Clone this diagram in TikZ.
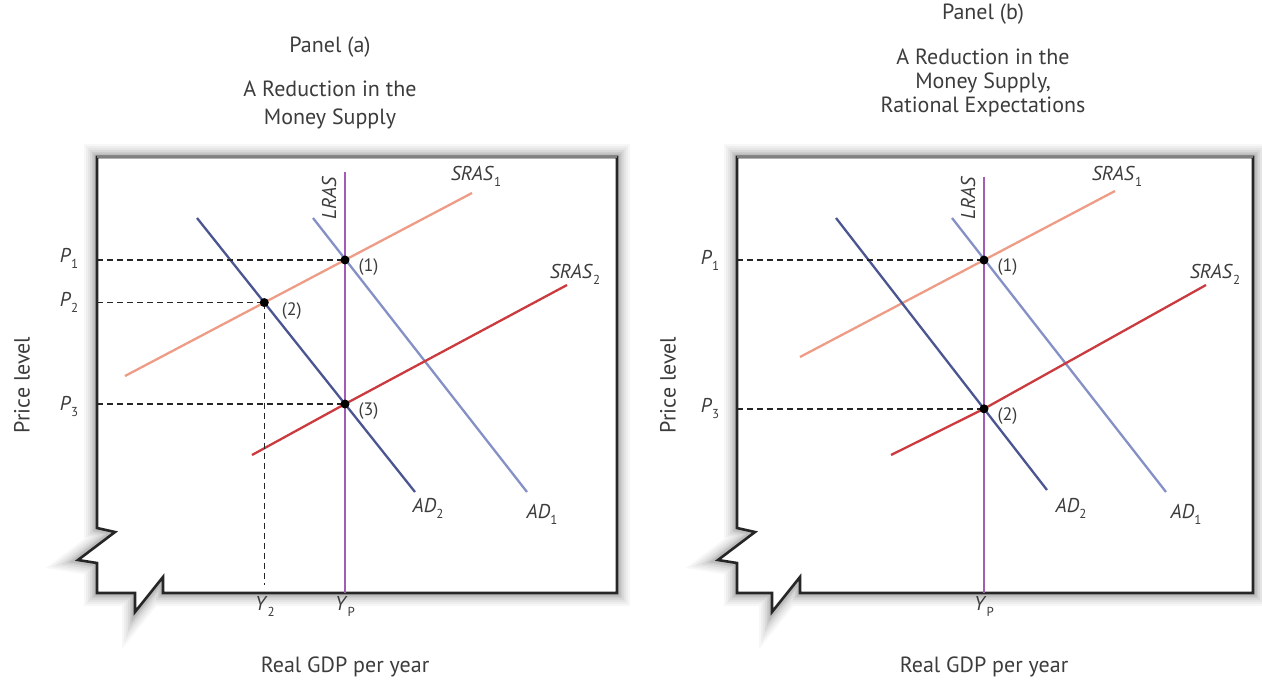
\documentclass[tikz,border=0pt]{standalone}
\usepackage{fontspec}
\setmainfont{PT Sans}
\usetikzlibrary{intersections}
\definecolor{lrasc}{HTML}{A45BB5}
\definecolor{srasone}{HTML}{EE9C86}
\definecolor{srastwo}{HTML}{CB3A3E}
\definecolor{adone}{HTML}{8591C6}
\definecolor{adtwo}{HTML}{4B5592}
\definecolor{ink}{HTML}{3C3C3C}
\newcommand{\sub}[1]{\raisebox{-0.6ex}{\fontsize{13}{13}\selectfont #1}}
\newcommand{\var}[2]{\textit{#1}\sub{#2}}

\begin{document}
\begin{tikzpicture}[x=1pt, y=-1pt,
  every node/.style={text=ink, font=\fontsize{22}{24}\selectfont},
  frame/.style={fill=white, draw=black!85, line width=2.6pt,
    preaction={draw=black, line width=26pt, opacity=0.03},
    preaction={draw=black, line width=22pt, opacity=0.035},
    preaction={draw=black, line width=18pt, opacity=0.04},
    preaction={draw=black, line width=14pt, opacity=0.05},
    preaction={draw=black, line width=10pt, opacity=0.06},
    preaction={draw=black, line width=7pt, opacity=0.08}},
  topedge/.style={draw=black!50, line width=2.8pt},
  curve/.style={line width=2.3pt},
  guide/.style={black!85, line width=1.5pt, dash pattern=on 6pt off 4pt},
  eqpt/.style={circle, fill=black, inner sep=0pt, minimum size=9pt},
  lab/.style={font=\fontsize{20}{24}\selectfont},
  num/.style={font=\fontsize{18}{20}\selectfont, anchor=west}]
\useasboundingbox (0,0) rectangle (1262,680);

% Panel (a)
\node (a-panel) at (330,47) {Panel (a)};
\node (a-title) [align=center] at (330,105) {A Reduction in the\\[4pt]Money Supply};
\path[frame] (617,157) -- (617,593) -- (163,593) -- (163,577) -- (135,612) -- (135,593)
  -- (97,593) -- (97,563) -- (78,560) -- (115,532) -- (97,528) -- (97,157) -- cycle;
\draw[topedge] (97,157) -- (617,157);
\coordinate (a-ax) at (97,0);
\coordinate (a-bot) at (0,585);
\draw[curve, srasone, name path=a-s1] (125,376) -- (472,193);
\draw[curve, adone, name path=a-d1] (313,218) -- (527,492);
\draw[curve, adtwo, name path=a-d2] (197,218) -- (415,492);
\draw[curve, lrasc, name path=a-lras] (345,172) -- (345,593);
\path[name intersections={of=a-lras and a-s1, by=a-e1}];
\path[name intersections={of=a-d2 and a-s1, by=a-e2}];
\path[name intersections={of=a-lras and a-d2, by=a-e3}];
\draw[curve, srastwo] (252,455) -- (a-e3) -- (567,285);
\draw[guide] (a-e1 -| a-ax) -- (a-e1);
\draw[guide] (a-e2 -| a-ax) -- (a-e2);
\draw[guide] (a-e3 -| a-ax) -- (a-e3);
\draw[guide] (a-e2) -- (a-e2 |- a-bot);
\node[eqpt] (a-pt1) at (a-e1) {};
\node[eqpt] (a-pt2) at (a-e2) {};
\node[eqpt] (a-pt3) at (a-e3) {};
\node[num] (a-n1) at ([xshift=10pt, yshift=-7pt]a-e1) {(1)};
\node[num] (a-n2) at ([xshift=14pt, yshift=-9pt]a-e2) {(2)};
\node[num] (a-n3) at ([xshift=10pt, yshift=-7pt]a-e3) {(3)};
\node[lab] (a-p1) at (69,258) {\var{P}{1}};
\node[lab] (a-p2) at (69,302) {\var{P}{2}};
\node[lab] (a-p3) at (69,406) {\var{P}{3}};
\node[lab] (a-y2) at (265,606) {\var{Y}{2}};
\node[lab] (a-yp) at (345,606) {\var{Y}{P}};
\node (a-xlab) at (345,667) {Real GDP per year};
\node (a-ylab) [rotate=90] at (22,385) {Price level};
\node[lab] (a-lraslab) [rotate=90] at (329,198) {\textit{LRAS}};
\node[lab] (a-s1lab) at (476,176) {\var{SRAS}{1}};
\node[lab] (a-s2lab) at (575,274) {\var{SRAS}{2}};
\node[lab] (a-d2lab) at (428,508) {\var{AD}{2}};
\node[lab] (a-d1lab) at (542,514) {\var{AD}{1}};

% Panel (b)
\begin{scope}[xshift=639pt]
\node (b-panel) at (344,14) {Panel (b)};
\node (b-title) [align=center] at (344,83) {A Reduction in the\\Money Supply,\\Rational Expectations};
\path[frame] (614,157) -- (614,593) -- (161,593) -- (161,577) -- (133,612) -- (133,593)
  -- (98,593) -- (98,563) -- (79,560) -- (116,532) -- (98,528) -- (98,157) -- cycle;
\draw[topedge] (98,157) -- (614,157);
\coordinate (b-ax) at (98,0);
\draw[curve, srasone, name path=b-s1] (161,357) -- (476,191);
\draw[curve, adone] (313,218) -- (527,492);
\draw[curve, adtwo, name path=b-d2] (197,218) -- (408,490);
\draw[curve, lrasc, name path=b-lras] (345,177) -- (345,593);
\path[name intersections={of=b-lras and b-s1, by=b-e1}];
\path[name intersections={of=b-lras and b-d2, by=b-e2}];
\draw[curve, srastwo] (252,455) -- (b-e2) -- (567,285);
\draw[guide] (b-e1 -| b-ax) -- (b-e1);
\draw[guide] (b-e2 -| b-ax) -- (b-e2);
\node[eqpt] (b-pt1) at (b-e1) {};
\node[eqpt] (b-pt2) at (b-e2) {};
\node[num] (b-n1) at ([xshift=10pt, yshift=-7pt]b-e1) {(1)};
\node[num] (b-n2) at ([xshift=10pt, yshift=-7pt]b-e2) {(2)};
\node[lab] (b-p1) at (71,260) {\var{P}{1}};
\node[lab] (b-p3) at (71,408) {\var{P}{3}};
\node[lab] (b-yp) at (345,606) {\var{Y}{P}};
\node (b-xlab) at (345,667) {Real GDP per year};
\node (b-ylab) [rotate=90] at (29,385) {Price level};
\node[lab] (b-lraslab) [rotate=90] at (329,198) {\textit{LRAS}};
\node[lab] (b-s1lab) at (478,176) {\var{SRAS}{1}};
\node[lab] (b-s2lab) at (576,274) {\var{SRAS}{2}};
\node[lab] (b-d2lab) at (432,508) {\var{AD}{2}};
\node[lab] (b-d1lab) at (547,514) {\var{AD}{1}};
\end{scope}
\end{tikzpicture}
\end{document}
